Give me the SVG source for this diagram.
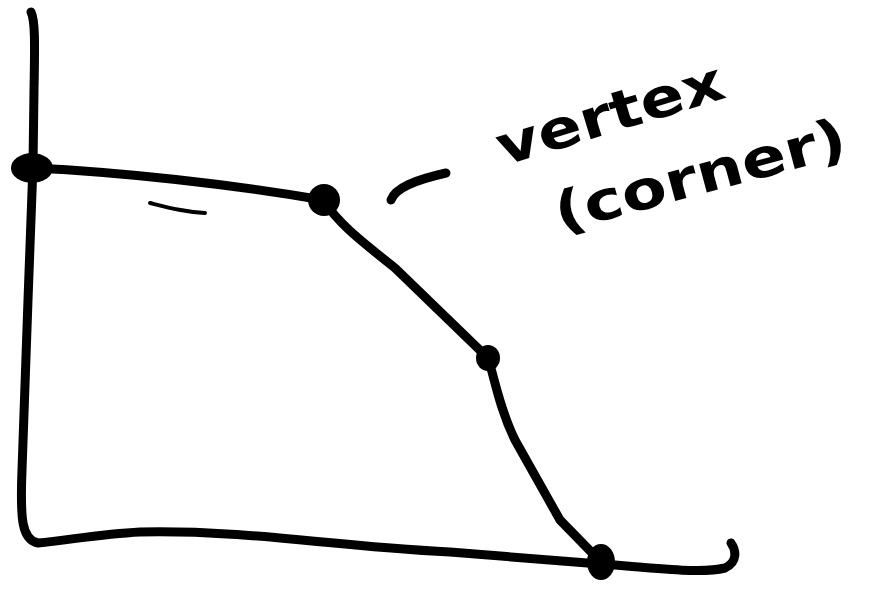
<svg xmlns="http://www.w3.org/2000/svg" width="875" height="595" viewBox="0 0 875 595">
<style>
.ln{fill:none;stroke:#000;stroke-width:9;stroke-linecap:round;stroke-linejoin:round}
.dot{fill:#000}
.hw{font-family:"DejaVu Sans","Liberation Sans",sans-serif;font-weight:bold;fill:#000}
</style>
<rect width="875" height="595" fill="#fff"/>
<g id="axes">
<path class="ln" d="M31,12 C35,20 35,40 34,90 L33,165 L28,300 L22,470 C20,520 22,540 38,543 C70,540 100,534 140,532 C250,530 320,545 450,552 C530,558 570,562 600,564 C660,568 700,574 725,568 C738,562 736,550 731,543"/>
</g>
<g id="connectors">
<path class="ln" d="M33,168 C120,172 230,184 323,200"/>
<path class="ln" d="M323,200 C340,225 360,240 395,268 L488,358"/>
<path class="ln" d="M488,358 C495,380 500,410 515,440 L560,520 L601,562"/>
<path fill="none" stroke="#000" stroke-width="4" stroke-linecap="round" d="M150,203 C170,208 185,212 205,213"/>
<path class="ln" d="M391,200 C395,188 415,180 446,173" stroke-width="8"/>
</g>
<g id="v1"><ellipse class="dot" cx="32" cy="168" rx="21" ry="15"/></g>
<g id="v2"><ellipse class="dot" cx="324" cy="200" rx="16" ry="16"/></g>
<g id="v3"><ellipse class="dot" cx="488" cy="358" rx="12" ry="13"/></g>
<g id="v4"><ellipse class="dot" cx="601" cy="562" rx="14" ry="18"/></g>
<g id="label">
<text class="hw" font-size="54" transform="translate(503,166) rotate(-17)" textLength="235" lengthAdjust="spacingAndGlyphs">vertex</text>
<text class="hw" font-size="54" transform="translate(560,232) rotate(-15)" textLength="300" lengthAdjust="spacingAndGlyphs">(corner)</text>
</g>
</svg>
